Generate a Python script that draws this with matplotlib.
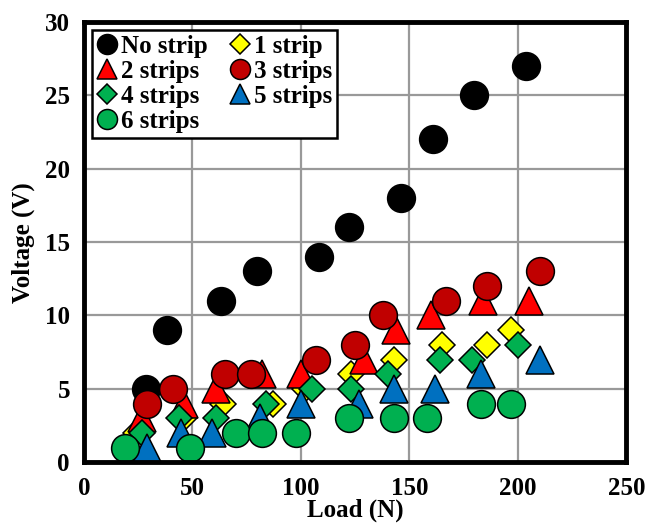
import matplotlib.pyplot as plt

plt.rcParams["font.family"] = "Liberation Serif"
plt.rcParams["font.weight"] = "bold"

# data (Load in N, Voltage in V)
no_strip_x = [28.5, 38.5, 63, 80, 108.5, 122, 146, 161, 180, 204]
no_strip_y = [5, 9, 11, 13, 14, 16, 18, 22, 25, 27]

strip1_x = [24, 46, 64, 87, 102, 123, 143, 165, 186, 197]
strip1_y = [2, 3, 4, 4, 5, 6, 7, 8, 8, 9]

strip2_x = [27, 46, 61, 82, 100, 129, 144, 160, 184, 205]
strip2_y = [3, 4, 5, 6, 6, 7, 9, 10, 11, 11]

strip3_x = [29, 41, 65, 77, 107, 125, 138, 167, 186, 210]
strip3_y = [4, 5, 6, 6, 7, 8, 10, 11, 12, 13]

strip4_x = [27, 44, 61, 84, 105, 123, 140, 164, 179, 200]
strip4_y = [2, 3, 3, 4, 5, 5, 6, 7, 7, 8]

strip5_x = [29, 45, 59, 81, 100, 127, 143, 162, 183, 210]
strip5_y = [1, 2, 2, 3, 4, 4, 5, 5, 6, 7]

strip6_x = [19, 49, 70, 82, 98, 122, 143, 158, 183, 197]
strip6_y = [1, 1, 2, 2, 2, 3, 3, 3, 4, 4]

fig = plt.figure(figsize=(6.45, 5.27), dpi=100)
ax = fig.add_axes([0.130, 0.123, 0.841, 0.835])

ax.grid(True, color="#999999", linewidth=1.6, zorder=0)
ax.set_axisbelow(True)

kw = dict(linestyle="none", markeredgecolor="black", markeredgewidth=1.1)
h0, = ax.plot(no_strip_x, no_strip_y, "o", color="black", markersize=20, label="No strip", **kw)
h1, = ax.plot(strip1_x, strip1_y, "D", color="#FFFF00", markersize=13.5, label="1 strip", **kw)
h2, = ax.plot(strip2_x, strip2_y, "^", color="#FF0000", markersize=20, label="2 strips", **kw)
h3, = ax.plot(strip3_x, strip3_y, "o", color="#C00000", markersize=20, label="3 strips", **kw)
h4, = ax.plot(strip4_x, strip4_y, "D", color="#00B050", markersize=13.5, label="4 strips", **kw)
h5, = ax.plot(strip5_x, strip5_y, "^", color="#0070C0", markersize=20, label="5 strips", **kw)
h6, = ax.plot(strip6_x, strip6_y, "o", color="#00B050", markersize=20, label="6 strips", **kw)

ax.set_xlim(0, 250)
ax.set_ylim(0, 30)
ax.set_xticks(range(0, 251, 50))
ax.set_yticks(range(0, 31, 5))
ax.tick_params(length=0, labelsize=18, pad=11)
ax.tick_params(axis="y", pad=10)
for sp in ax.spines.values():
    sp.set_linewidth(3.5)
    sp.set_color("black")

ax.set_xlabel("Load (N)", fontsize=18, fontweight="bold", labelpad=-1)
ax.set_ylabel("Voltage (V)", fontsize=18, fontweight="bold", labelpad=7)

leg = ax.legend([h0, h2, h4, h6, h1, h3, h5],
                ["No strip", "2 strips", "4 strips", "6 strips", "1 strip", "3 strips", "5 strips"],
                ncol=2, loc="upper left", bbox_to_anchor=(0.0148, 0.982), borderaxespad=0,
                fontsize=18, markerscale=0.72, handlelength=0.8, handletextpad=0.15,
                columnspacing=0.9, labelspacing=0.08, borderpad=0.2, fancybox=False,
                framealpha=1, edgecolor="black")
leg.get_frame().set_linewidth(1.8)

fig.savefig("out.png", dpi=100)
